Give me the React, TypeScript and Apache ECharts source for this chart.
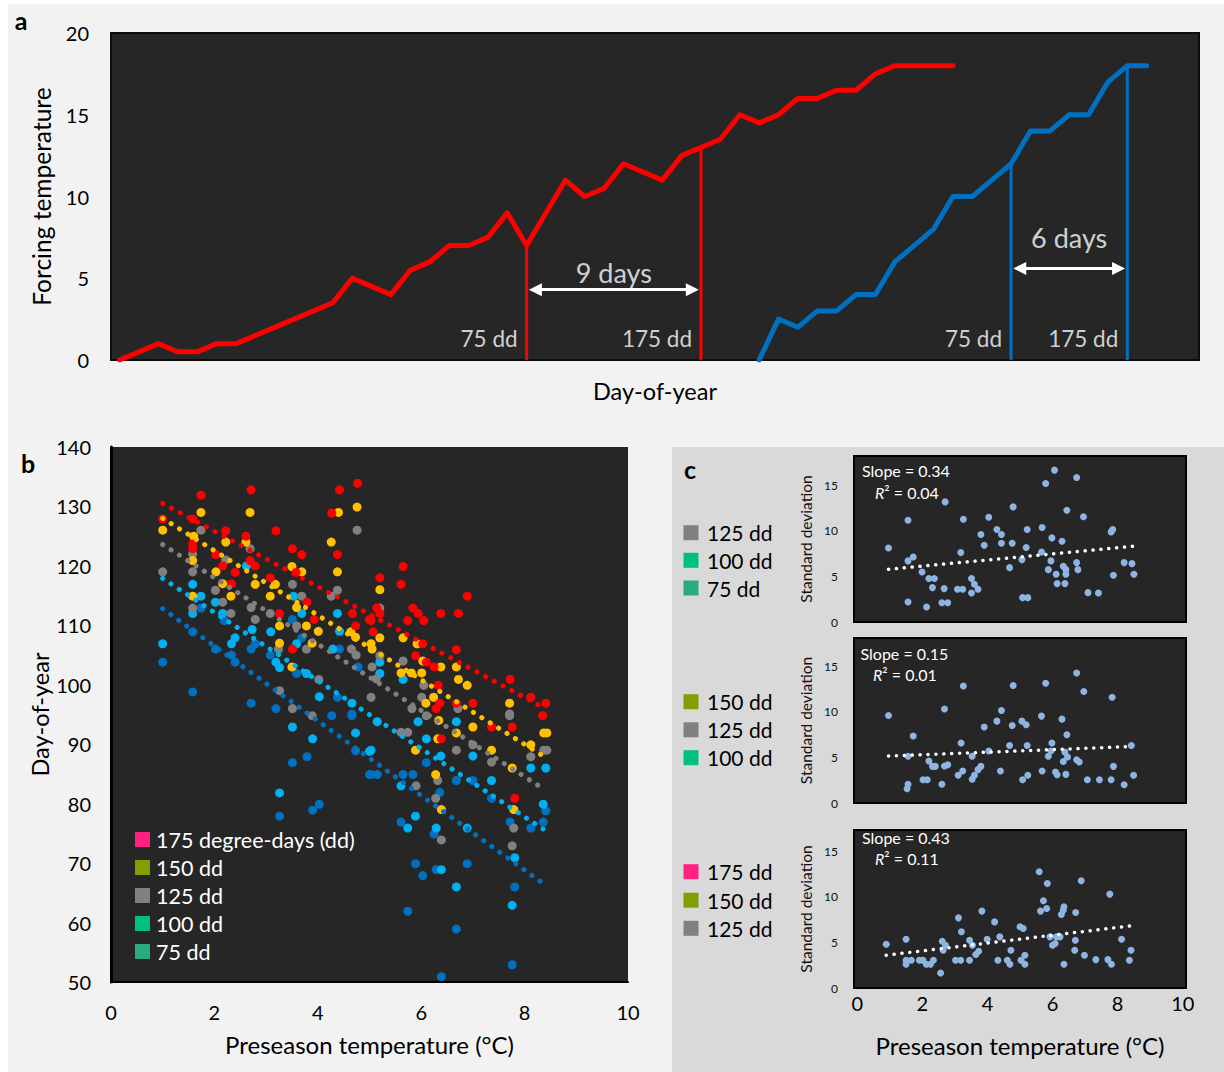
import React, { useEffect, useRef } from "react";
import * as echarts from "echarts";

// ---------------- Panel a data ----------------
const redStartDay = 0;
const redForcing = [0, 0.5, 1, 0.5, 0.5, 1, 1, 1.5, 2, 2.5, 3, 3.5, 5, 4.5, 4, 5.5, 6, 7, 7, 7.5, 9, 7, 9, 11, 10, 10.5, 12, 11.5, 11, 12.5, 13, 13.5, 15, 14.5, 15, 16, 16, 16.5, 16.5, 17.5, 18, 18, 18, 18];
const blueStartDay = 33;
const blueForcing = [0, 2.5, 2, 3, 3, 4, 4, 6, 7, 8, 10, 10, 11, 12, 14, 14, 15, 15, 17, 18, 18];
const redThresholdDays = [21, 30];
const blueThresholdDays = [46, 52];
const thresholdNames = ["75 dd", "175 dd"];
const gapNames = ["9 days", "6 days"];
const arrowLevels = [4.3, 5.6];
const gapLabelLevels = [5.35, 7.5];
const thresholdLabelLevel = 1.3;

// ---------------- Panel b data ----------------
const bNames = ["175 dd", "150 dd", "125 dd", "100 dd", "75 dd"];
const bColors = ["#ff0000", "#ffc000", "#808080", "#00b0f0", "#0070c0"];
const doy175 = [[1.74,131.9],[2.71,132.8],[4.42,132.8],[4.77,133.9],[4.27,128.9],[1.58,127.9],[1.0,127.9],[2.22,125.9],[2.61,125.0],[3.19,125.9],[1.58,123.7],[1.58,122.9],[2.03,121.9],[3.51,122.9],[3.69,121.9],[4.38,121.9],[2.69,120.9],[2.79,120.0],[2.16,120.0],[2.4,118.9],[3.58,118.9],[3.08,118.0],[2.33,117.0],[3.79,113.9],[4.67,112.0],[3.26,112.0],[3.93,111.0],[4.73,109.9],[5.0,111.0],[3.51,106.0],[5.65,119.9],[5.2,118.0],[5.61,116.9],[6.89,114.9],[5.14,112.9],[5.2,112.0],[5.84,112.9],[5.94,112.0],[5.74,110.8],[6.05,110.8],[6.38,112.0],[6.72,112.0],[5.03,110.8],[5.07,108.9],[6.03,106.9],[6.68,105.9],[5.89,104.9],[6.1,103.8],[6.25,103.0],[7.72,100.9],[6.33,99.9],[8.12,97.9],[8.41,96.9],[7.0,96.9],[6.68,96.9],[6.36,96.9],[6.29,96.0],[8.35,94.8],[7.76,92.9],[7.36,92.9],[6.39,90.9],[7.81,80.9]];
const doy150 = [[1.74,129.0],[2.69,129.0],[4.4,129.0],[4.76,129.9],[1.0,126.0],[1.6,125.0],[2.22,124.0],[2.61,124.0],[4.26,124.0],[1.58,120.9],[2.03,119.0],[3.5,119.9],[3.69,119.0],[4.38,119.0],[2.16,117.0],[2.79,116.9],[1.58,114.9],[2.32,114.9],[3.08,114.9],[3.18,116.9],[3.59,113.0],[3.26,109.9],[3.78,109.9],[4.01,109.0],[4.73,108.0],[3.26,107.0],[3.89,107.0],[3.5,103.0],[4.64,108.9],[5.2,116.0],[5.2,107.9],[5.03,106.9],[5.05,106.0],[5.65,107.9],[5.92,106.9],[6.03,104.0],[6.38,103.0],[6.68,103.0],[5.61,102.0],[5.81,102.0],[6.01,102.0],[6.72,100.9],[6.89,99.9],[6.24,97.9],[7.71,96.9],[6.09,96.9],[7.0,92.9],[6.34,94.0],[6.68,91.9],[6.32,90.9],[5.89,89.0],[7.36,89.0],[7.76,86.0],[8.12,89.9],[8.37,91.9],[6.28,84.9],[6.39,79.0],[7.79,79.0],[8.43,91.9]];
const doy125 = [[1.74,126.0],[2.69,122.9],[4.76,126.0],[1.58,122.0],[1.0,119.0],[1.58,119.0],[2.22,121.0],[2.02,115.9],[3.51,116.9],[3.69,114.9],[4.38,115.9],[2.16,113.9],[1.58,112.9],[2.71,113.0],[2.32,112.0],[2.79,111.0],[3.08,112.0],[3.59,109.9],[3.78,106.0],[3.24,106.0],[4.26,114.9],[4.65,106.0],[4.74,105.0],[4.02,100.9],[3.26,99.0],[3.51,96.0],[5.2,112.9],[5.2,104.9],[5.05,103.0],[5.65,104.0],[5.13,101.0],[6.05,99.9],[5.03,97.9],[6.01,97.9],[5.82,96.0],[6.71,96.0],[7.71,95.1],[6.1,94.8],[6.68,89.0],[7.0,89.9],[7.36,87.0],[7.71,94.8],[8.12,87.9],[8.37,89.0],[6.32,83.9],[5.9,83.0],[6.28,80.9],[6.39,73.9],[7.79,75.9],[7.76,72.9],[5.74,92.0],[5.61,92.0],[3.89,94.8],[8.43,89.0]];
const doy100 = [[2.62,120.0],[1.58,116.9],[1.74,114.9],[1.0,106.9],[2.02,113.9],[2.16,112.0],[1.58,112.0],[3.53,114.9],[2.73,109.3],[3.09,108.9],[2.4,107.9],[2.33,106.9],[3.26,102.9],[3.59,106.9],[3.69,112.0],[4.38,112.0],[4.42,109.0],[4.29,106.0],[3.19,103.8],[3.78,101.9],[4.03,98.0],[4.66,96.9],[5.2,103.8],[5.2,101.9],[5.65,100.9],[5.15,93.8],[5.94,93.8],[6.68,93.8],[5.03,89.0],[6.1,90.9],[6.38,88.0],[7.0,88.0],[5.61,83.0],[5.89,77.9],[5.74,75.9],[6.29,75.9],[6.89,75.9],[7.36,83.9],[8.12,86.0],[8.41,86.0],[8.36,79.9],[6.39,68.9],[6.68,66.0],[7.76,62.9],[7.81,70.9],[3.51,92.9],[3.9,90.9],[3.26,81.8],[4.73,91.9],[5.0,88.8]];
const doy75 = [[1.0,103.8],[1.58,108.9],[1.58,98.8],[1.74,112.9],[2.02,106.0],[2.19,110.8],[2.33,105.0],[2.4,103.8],[2.71,106.0],[2.71,96.9],[2.79,106.9],[3.08,105.0],[3.51,111.0],[3.69,107.9],[3.59,101.9],[3.19,96.0],[4.42,106.0],[4.78,103.0],[4.38,97.9],[4.66,95.1],[6.1,86.9],[5.65,84.9],[5.84,84.9],[5.03,84.9],[5.15,84.9],[6.68,83.9],[7.0,83.9],[6.36,81.9],[7.36,80.9],[5.61,76.9],[6.25,74.9],[7.72,76.9],[8.12,75.9],[8.36,76.9],[8.41,78.8],[5.89,69.9],[6.03,67.9],[6.29,68.9],[6.89,69.9],[7.81,66.0],[5.74,61.9],[6.68,58.9],[7.76,52.9],[6.39,50.9],[3.51,86.9],[3.79,87.9],[4.03,79.9],[3.9,78.9],[3.26,77.9],[4.27,94.8],[4.66,94.8],[4.73,88.9],[5.0,84.9]];
const trend175 = [[1.0,130.5],[8.4,96.0]];
const trend150 = [[1.0,128.0],[8.4,87.8]];
const trend125 = [[1.0,123.6],[8.4,82.3]];
const trend100 = [[1.0,117.9],[8.4,75.5]];
const trend75 = [[1.0,112.8],[8.4,66.3]];
const bLegendLabels = ["175 degree-days (dd)", "150 dd", "125 dd", "100 dd", "75 dd"];
const ddLegendColors: Record<string, string> = { "175": "#ff2080", "150": "#80a000", "125": "#808080", "100": "#00c080", "75": "#2aaa80" };

// ---------------- Panel c data ----------------
const sdC1 = [[0.96,8.12],[1.56,11.16],[1.56,6.7],[1.72,7.13],[1.56,2.2],[1.99,5.49],[2.2,4.76],[2.37,4.76],[2.31,3.77],[2.13,1.65],[2.6,2.12],[2.78,2.12],[2.67,3.66],[2.7,13.17],[3.08,3.59],[3.24,3.59],[3.18,7.61],[3.26,11.27],[3.51,4.76],[3.6,4.13],[3.71,3.59],[3.51,3.18],[3.8,9.59],[3.9,8.42],[4.04,11.49],[4.29,10.14],[4.43,9.59],[4.43,8.64],[4.68,5.96],[4.76,8.64],[4.79,12.62],[5.06,6.84],[5.08,2.67],[5.24,2.67],[5.19,8.16],[5.22,10.14],[5.66,7.68],[5.68,10.36],[5.79,15.19],[5.95,6.7],[5.87,5.74],[6.06,16.65],[5.98,9.22],[6.11,5.23],[6.29,8.85],[6.33,6.11],[6.44,12.26],[6.41,5.74],[6.41,5.23],[6.14,4.21],[6.38,4.21],[6.74,15.84],[6.74,6.51],[6.78,5.74],[6.95,11.53],[7.09,3.22],[7.41,3.18],[7.8,9.88],[7.85,10.14],[7.87,5.12],[8.2,6.51],[8.44,6.4],[8.5,5.23]];
const sdC2 = [[0.96,9.6],[1.56,5.12],[1.56,2.05],[1.53,1.57],[1.72,7.35],[2.02,2.56],[2.15,2.56],[2.2,4.61],[2.31,4.02],[2.4,4.02],[2.6,2.05],[2.68,10.32],[2.68,4.06],[2.78,4.2],[3.1,3.04],[3.19,6.59],[3.24,3.51],[3.26,12.84],[3.53,2.6],[3.53,5.12],[3.6,3.04],[3.71,3.66],[3.8,4.02],[3.9,8.34],[4.04,5.71],[4.29,8.98],[4.4,3.51],[4.43,10.15],[4.68,6.31],[4.76,8.5],[4.79,12.88],[5.06,8.98],[5.19,8.58],[5.08,2.56],[5.24,3.04],[5.22,6.31],[5.66,9.53],[5.68,3.51],[5.79,13.14],[5.87,5.12],[5.95,5.71],[5.98,6.59],[6.09,3.4],[6.14,3.1],[6.29,9.2],[6.33,4.56],[6.38,5.58],[6.41,3.14],[6.44,7.48],[6.46,5.04],[6.74,14.27],[6.74,4.74],[6.82,4.49],[6.96,12.23],[7.07,2.56],[7.44,2.56],[7.8,2.56],[7.83,11.61],[7.87,4.02],[8.2,2.01],[8.42,6.31],[8.49,3.04]];
const sdC3 = [[0.89,4.79],[1.5,5.34],[1.5,2.6],[1.5,3.04],[1.66,3.04],[1.91,3.04],[2.02,3.04],[2.12,2.6],[2.25,2.6],[2.34,3.04],[2.56,1.65],[2.61,5.12],[2.64,4.13],[2.71,4.68],[3.02,3.04],[3.11,7.68],[3.18,3.04],[3.2,6.15],[3.45,5.23],[3.45,3.04],[3.54,4.68],[3.64,3.66],[3.73,4.02],[3.83,8.42],[3.99,5.34],[4.22,7.24],[4.32,3.04],[4.38,5.6],[4.61,3.04],[4.69,2.6],[4.72,4.13],[5.0,6.7],[5.1,6.51],[5.03,3.04],[5.15,2.6],[5.15,3.59],[5.59,12.73],[5.63,8.42],[5.72,9.55],[5.84,11.45],[5.82,8.71],[5.92,5.6],[6.0,4.68],[6.08,4.87],[6.12,5.6],[6.23,5.6],[6.27,8.05],[6.33,8.53],[6.35,8.89],[6.35,2.6],[6.71,8.27],[6.7,5.23],[6.68,4.13],[6.88,11.75],[6.98,3.59],[7.33,3.11],[7.7,3.11],[7.76,10.28],[7.81,2.6],[8.12,5.34],[8.36,3.04],[8.41,4.13]];
const trendC1 = [[0.96,5.78],[8.49,8.31]];
const trendC2 = [[0.96,5.15],[8.44,6.2]];
const trendC3 = [[0.89,3.59],[8.41,6.81]];
const slopeLabels = ["0.34", "0.15", "0.43"];
const r2Labels = ["0.04", "0.01", "0.11"];
const cLegendLabels = [["125", "100", "75"], ["150", "125", "100"], ["175", "150", "125"]];
const cYMax = [18.2, 18.1, 17.3];

const FONT = "Lato, 'Noto Sans', sans-serif";
const DARK = "#262626";

function buildOption() {
  const grids = [
    { left: 111, top: 33, width: 1088, height: 327, show: true, backgroundColor: DARK, borderColor: "#0d0d0d", borderWidth: 2 },
    { left: 111, top: 447, width: 517, height: 535, show: true, backgroundColor: DARK, borderWidth: 0 },
    { left: 854, top: 456, width: 332, height: 166, show: true, backgroundColor: DARK, borderColor: "#000", borderWidth: 2 },
    { left: 854, top: 638, width: 332, height: 165, show: true, backgroundColor: DARK, borderColor: "#000", borderWidth: 2 },
    { left: 854, top: 830, width: 332, height: 158, show: true, backgroundColor: DARK, borderColor: "#000", borderWidth: 2 },
  ].map((g) => ({ ...g, containLabel: false, outerBoundsMode: "none" }));

  const hidden = { axisLine: { show: false }, axisTick: { show: false }, axisLabel: { show: false }, splitLine: { show: false } };
  const txt = (size: number, color = "#000") => ({ fontFamily: FONT, fontSize: size, color });

  const xAxes: any[] = [
    { gridIndex: 0, type: "value", min: -0.45, max: 55.7, ...hidden, name: "Day-of-year", nameLocation: "middle", nameGap: 19, nameTextStyle: { ...txt(23.5), verticalAlign: "top" }, nameMoveOverlap: false },
    { gridIndex: 1, type: "value", min: 0, max: 10, interval: 2, axisLine: { show: true, lineStyle: { color: "#000", width: 2 } }, axisTick: { show: false }, splitLine: { show: false }, axisLabel: { ...txt(20), margin: 20 }, name: "Preseason temperature (°C)", nameLocation: "middle", nameGap: 50, nameTextStyle: { ...txt(24), verticalAlign: "top" }, nameMoveOverlap: false },
    { gridIndex: 2, type: "value", min: -0.1, max: 10.1, ...hidden },
    { gridIndex: 3, type: "value", min: -0.1, max: 10.1, ...hidden },
    { gridIndex: 4, type: "value", min: -0.1, max: 10.1, axisLine: { show: false }, axisTick: { show: false }, splitLine: { show: false }, axisLabel: { ...txt(20), margin: 5, customValues: [0, 2, 4, 6, 8, 10] }, name: "Preseason temperature (°C)", nameLocation: "middle", nameGap: 45, nameTextStyle: { ...txt(24), verticalAlign: "top" }, nameMoveOverlap: false },
  ];
  const yAxes: any[] = [
    { gridIndex: 0, type: "value", min: 0, max: 20, interval: 5, axisLine: { show: false }, axisTick: { show: false }, splitLine: { show: false }, axisLabel: { ...txt(20), margin: 22 }, name: "Forcing temperature", nameLocation: "middle", nameRotate: 90, nameGap: 57, nameTextStyle: { ...txt(24.5), verticalAlign: "bottom" }, nameMoveOverlap: false },
    { gridIndex: 1, type: "value", min: 50, max: 140, interval: 10, axisLine: { show: true, lineStyle: { color: "#000", width: 3 } }, axisTick: { show: false }, splitLine: { show: false }, axisLabel: { ...txt(20), margin: 20 }, name: "Day-of-year", nameLocation: "middle", nameRotate: 90, nameGap: 59, nameTextStyle: { ...txt(23.5), verticalAlign: "bottom" }, nameMoveOverlap: false },
  ];
  for (let k = 0; k < 3; k++) {
    yAxes.push({ gridIndex: 2 + k, type: "value", min: 0, max: cYMax[k], axisLine: { show: false }, axisTick: { show: false }, splitLine: { show: false }, axisLabel: { ...txt(12, "#111"), margin: 16, customValues: [0, 5, 10, 15] }, name: "Standard deviation", nameLocation: "middle", nameRotate: 90, nameGap: 40, nameTextStyle: { ...txt(15.5, "#111"), verticalAlign: "bottom" }, nameMoveOverlap: false });
  }

  const series: any[] = [];
  // Panel a: forcing curves
  const redData = redForcing.map((v, i) => [redStartDay + i, v]);
  const blueData = blueForcing.map((v, i) => [blueStartDay + i, v]);
  const curves = [
    { data: redData, color: "#ff0000", days: redThresholdDays, start: redStartDay, vals: redForcing },
    { data: blueData, color: "#0070c0", days: blueThresholdDays, start: blueStartDay, vals: blueForcing },
  ];
  curves.forEach((c, ci) => {
    c.days.forEach((d, di) => {
      const s: any = {
        type: "line", xAxisIndex: 0, yAxisIndex: 0, silent: true, symbol: "none", z: 3,
        data: [[d, 0], [d, c.vals[d - c.start]]],
        lineStyle: { color: c.color, width: 3, cap: "butt" },
      };
      if (di === 0) {
        s.markLine = {
          silent: true, symbol: ["triangle", "triangle"], symbolSize: 13,
          lineStyle: { color: "#ffffff", width: 3, type: "solid" },
          label: { show: false },
          data: [[{ coord: [c.days[0] + 0.45, arrowLevels[ci]] }, { coord: [c.days[1] - 0.45, arrowLevels[ci]] }]],
        };
      }
      series.push(s);
    });
    series.push({
      type: "line", xAxisIndex: 0, yAxisIndex: 0, silent: true, showSymbol: false, symbol: "none", z: 4,
      data: c.data, lineStyle: { color: c.color, width: 5, cap: "round", join: "round" },
    });
  });
  const annot: any[] = [];
  curves.forEach((c, ci) => {
    c.days.forEach((d, di) => {
      annot.push({ value: [d, thresholdLabelLevel], label: { show: true, formatter: thresholdNames[di], position: "left", distance: 9, ...txt(22.5, "#fff") } });
    });
    annot.push({ value: [(c.days[0] + c.days[1]) / 2, gapLabelLevels[ci]], label: { show: true, formatter: gapNames[ci], position: "inside", ...txt(27, "#fff") } });
  });
  series.push({ type: "scatter", xAxisIndex: 0, yAxisIndex: 0, silent: true, symbolSize: 0, z: 6, data: annot });

  // Panel b
  const bData = [doy75, doy100, doy125, doy150, doy175];
  const bCol = [bColors[4], bColors[3], bColors[2], bColors[1], bColors[0]];
  const bNm = [bNames[4], bNames[3], bNames[2], bNames[1], bNames[0]];
  bData.forEach((d, i) => {
    series.push({ type: "scatter", name: bNm[i], xAxisIndex: 1, yAxisIndex: 1, silent: true, symbolSize: 9, z: 3, data: d, itemStyle: { color: bCol[i], opacity: 1 } });
  });
  const bTrends = [trend75, trend100, trend125, trend150, trend175];
  bTrends.forEach((t, i) => {
    series.push({ type: "line", xAxisIndex: 1, yAxisIndex: 1, silent: true, symbol: "none", z: 4, data: t, lineStyle: { color: bCol[i], width: 5, type: [0.1, 9.8], cap: "round" } });
  });

  // Panel c
  const cData = [sdC1, sdC2, sdC3];
  const cTrend = [trendC1, trendC2, trendC3];
  cData.forEach((d, k) => {
    series.push({ type: "scatter", xAxisIndex: 2 + k, yAxisIndex: 2 + k, silent: true, symbolSize: 7, z: 3, data: d, itemStyle: { color: "#8db4e2", opacity: 1 } });
    series.push({ type: "line", xAxisIndex: 2 + k, yAxisIndex: 2 + k, silent: true, symbol: "none", z: 4, data: cTrend[k], lineStyle: { color: "#ffffff", width: 3.5, type: [0.1, 7.8], cap: "round" } });
  });

  // Graphic: backgrounds, panel letters, legends, annotations
  const g: any[] = [
    { type: "rect", z: -10, silent: true, shape: { x: 0, y: 0, width: 1224, height: 4 }, style: { fill: "#ffffff" } },
    { type: "rect", z: -10, silent: true, shape: { x: 0, y: 0, width: 8, height: 1072 }, style: { fill: "#ffffff" } },
    { type: "rect", z: -10, silent: true, shape: { x: 672, y: 447, width: 552, height: 625 }, style: { fill: "#d9d9d9" } },
  ];
  const letter = (t: string, x: number, y: number) => ({ type: "text", z: 10, silent: true, x, y, style: { text: t, fontFamily: FONT, fontSize: 25, fontWeight: "bold", fill: "#000", align: "center", verticalAlign: "middle" } });
  g.push(letter("a", 21, 20), letter("b", 28, 463), letter("c", 690, 469));

  bLegendLabels.forEach((lab, i) => {
    const y = 839.5 + i * 28;
    const key = ["175", "150", "125", "100", "75"][i];
    g.push({ type: "rect", z: 10, silent: true, shape: { x: 135, y: y - 7.5, width: 15, height: 15 }, style: { fill: ddLegendColors[key] } });
    g.push({ type: "text", z: 10, silent: true, x: 156, y, style: { text: lab, fontFamily: FONT, fontSize: 21.5, fill: "#ffffff", align: "left", verticalAlign: "middle" } });
  });
  const cLegendRows = [[532.7, 560.3, 588], [701.7, 729.8, 757.7], [871.7, 900.2, 928.3]];
  cLegendLabels.forEach((labs, k) => {
    labs.forEach((key, i) => {
      const y = cLegendRows[k][i];
      g.push({ type: "rect", z: 10, silent: true, shape: { x: 683.5, y: y - 7.5, width: 15, height: 15 }, style: { fill: ddLegendColors[key] } });
      g.push({ type: "text", z: 10, silent: true, x: 707, y, style: { text: key + " dd", fontFamily: FONT, fontSize: 21, fill: "#000", align: "left", verticalAlign: "middle" } });
    });
  });
  const slopePos = [[862, 470.5, 875, 492.5], [860.5, 653, 873, 674], [862, 837, 875, 858]];
  slopePos.forEach((p, k) => {
    g.push({ type: "text", z: 10, silent: true, x: p[0], y: p[1], style: { text: "Slope = " + slopeLabels[k], fontFamily: FONT, fontSize: 16, fill: "#ffffff", align: "left", verticalAlign: "middle" } });
    g.push({
      type: "text", z: 10, silent: true, x: p[2], y: p[3],
      style: {
        text: "{i|R}² = " + r2Labels[k], fontFamily: FONT, fontSize: 16, fill: "#ffffff", align: "left", verticalAlign: "middle",
        rich: { i: { fontStyle: "italic", fontFamily: FONT, fontSize: 16, fill: "#ffffff" } },
      },
    });
  });

  return {
    animation: false,
    backgroundColor: "#f2f2f2",
    textStyle: { fontFamily: FONT },
    grid: grids,
    xAxis: xAxes,
    yAxis: yAxes,
    series,
    graphic: { elements: g },
  };
}

export default function App() {
  const ref = useRef<HTMLDivElement>(null);
  useEffect(() => {
    if (!ref.current) return;
    const chart = echarts.init(ref.current, undefined, { renderer: "svg" });
    chart.setOption(buildOption() as any);
    return () => chart.dispose();
  }, []);
  return <div ref={ref} style={{ position: "absolute", left: 0, top: 0, width: 1224, height: 1072 }} />;
}
